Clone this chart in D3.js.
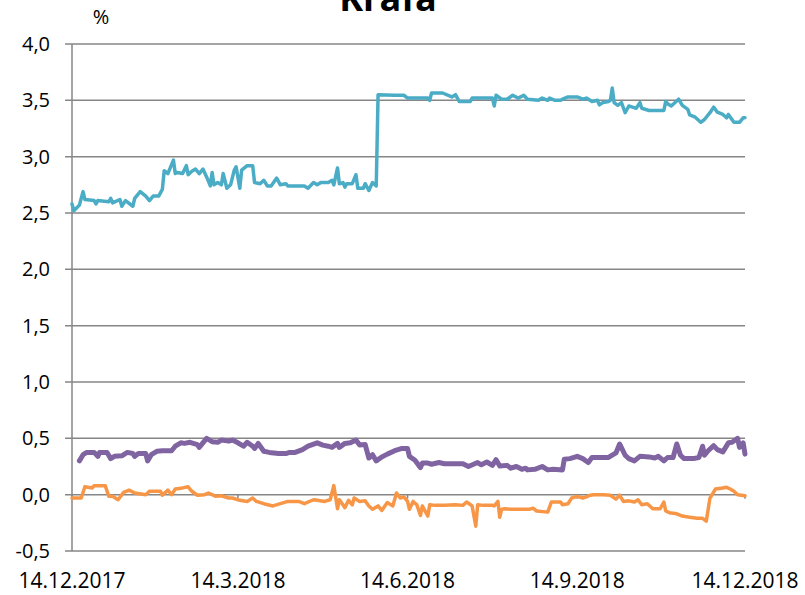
<!DOCTYPE html>
<html>
<head>
<meta charset="utf-8">
<script src="https://cdn.jsdelivr.net/npm/d3@7"></script>
<style>
  body { margin: 0; background: #fff; }
  text { font-family: "Open Sans", "Liberation Sans", sans-serif; fill: #000; }
</style>
</head>
<body>
<script>
// Chart data: [day offset from 14.12.2017, value in %]
const startDate = new Date(2017, 11, 14);
const endDate = new Date(2018, 11, 14);
const tickDates = [new Date(2017, 11, 14), new Date(2018, 2, 14), new Date(2018, 5, 14), new Date(2018, 8, 14), new Date(2018, 11, 14)];
const tickLabels = ["14.12.2017", "14.3.2018", "14.6.2018", "14.9.2018", "14.12.2018"];
const yTicks = [-0.5, 0, 0.5, 1, 1.5, 2, 2.5, 3, 3.5, 4];

const lineBlue = [
    [0, 2.58], [1, 2.52], [4, 2.57], [6, 2.69], [7, 2.62], [12, 2.61], [13, 2.58], [14, 2.61], [20, 2.60],
    [21, 2.63], [22, 2.59], [26, 2.62], [27, 2.56], [29, 2.61], [33, 2.56], [34, 2.63], [37, 2.69], [40, 2.65],
    [42, 2.61], [44, 2.65], [47, 2.65], [49, 2.71], [50, 2.875], [52, 2.85], [54, 2.93], [55, 2.97], [56, 2.85],
    [57, 2.86], [60, 2.85], [62, 2.92], [63, 2.84], [65, 2.87], [67, 2.89], [69, 2.85], [71, 2.89], [73, 2.82],
    [75, 2.74], [76, 2.86], [77, 2.75], [79, 2.77], [81, 2.75], [82, 2.85], [84, 2.72], [86, 2.75], [88, 2.88],
    [89, 2.91], [91, 2.72], [92, 2.88], [95, 2.92], [98, 2.92], [99, 2.77], [102, 2.76], [104, 2.79], [106, 2.74],
    [108, 2.74], [111, 2.81], [113, 2.75], [116, 2.76], [117, 2.74], [126, 2.74], [128, 2.72], [131, 2.77],
    [133, 2.75], [135, 2.77], [139, 2.77], [141, 2.79], [142, 2.75], [144, 2.90], [145, 2.76], [147, 2.77],
    [148, 2.73], [149, 2.76], [152, 2.76], [154, 2.84], [155, 2.72], [158, 2.72], [159, 2.76], [161, 2.70],
    [163, 2.77], [165, 2.74], [166, 3.55], [175, 3.545], [180, 3.545], [182, 3.52], [193, 3.52], [194, 3.50],
    [195, 3.565], [201, 3.565], [206, 3.53], [208, 3.55], [209, 3.52], [210, 3.49], [216, 3.49], [217, 3.52],
    [228, 3.52], [229, 3.45], [230, 3.545], [233, 3.51], [236, 3.51], [239, 3.545], [242, 3.52], [245, 3.545],
    [247, 3.51], [253, 3.50], [255, 3.52], [258, 3.50], [259, 3.52], [262, 3.50], [265, 3.50], [266, 3.51],
    [269, 3.53], [274, 3.53], [277, 3.51], [279, 3.52], [282, 3.49], [285, 3.50], [286, 3.46], [288, 3.48],
    [291, 3.49], [292, 3.50], [293, 3.61], [294, 3.48], [296, 3.455], [298, 3.48], [300, 3.39], [302, 3.45],
    [304, 3.44], [306, 3.43], [308, 3.48], [309, 3.43], [313, 3.41], [321, 3.41], [322, 3.49], [323, 3.47],
    [325, 3.45], [329, 3.51], [331, 3.455], [334, 3.42], [335, 3.37], [338, 3.35], [341, 3.305], [343, 3.33],
    [346, 3.39], [348, 3.44], [350, 3.395], [353, 3.375], [355, 3.345], [356, 3.375], [359, 3.305], [362, 3.305],
    [364, 3.345], [365, 3.345]
];

const linePurple = [
    [4, 0.30], [6, 0.355], [8, 0.375], [12, 0.375], [14, 0.34], [15, 0.375], [19, 0.375], [21, 0.32],
    [23, 0.34], [27, 0.345], [30, 0.375], [33, 0.365], [34, 0.34], [36, 0.365], [40, 0.365], [41, 0.30],
    [43, 0.355], [46, 0.385], [49, 0.39], [52, 0.39], [54, 0.39], [56, 0.43], [59, 0.46], [61, 0.455],
    [64, 0.465], [68, 0.445], [69, 0.42], [71, 0.46], [73, 0.50], [76, 0.47], [79, 0.465], [81, 0.485],
    [85, 0.475], [87, 0.485], [90, 0.46], [93, 0.43], [95, 0.465], [98, 0.43], [99, 0.41], [101, 0.455],
    [104, 0.385], [107, 0.375], [112, 0.365], [116, 0.365], [118, 0.375], [121, 0.375], [125, 0.40],
    [128, 0.43], [133, 0.46], [136, 0.44], [139, 0.43], [141, 0.42], [144, 0.455], [145, 0.42], [148, 0.455],
    [151, 0.46], [154, 0.485], [156, 0.44], [159, 0.445], [161, 0.325], [163, 0.355], [165, 0.30], [168, 0.335],
    [171, 0.36], [175, 0.39], [179, 0.41], [182, 0.41], [183, 0.34], [186, 0.305], [189, 0.24], [190, 0.28],
    [193, 0.28], [195, 0.27], [199, 0.285], [202, 0.275], [206, 0.275], [212, 0.275], [215, 0.25], [220, 0.285],
    [222, 0.265], [225, 0.29], [228, 0.26], [230, 0.31], [232, 0.255], [236, 0.26], [238, 0.235], [241, 0.25],
    [244, 0.225], [246, 0.235], [247, 0.22], [251, 0.225], [255, 0.25], [258, 0.22], [261, 0.225], [266, 0.22],
    [267, 0.315], [270, 0.32], [274, 0.34], [277, 0.32], [280, 0.285], [282, 0.33], [286, 0.33], [291, 0.33],
    [295, 0.37], [297, 0.45], [300, 0.35], [302, 0.32], [305, 0.30], [308, 0.34], [313, 0.335], [316, 0.325],
    [318, 0.34], [321, 0.30], [323, 0.33], [326, 0.33], [328, 0.45], [330, 0.35], [332, 0.32], [337, 0.32],
    [340, 0.33], [342, 0.43], [343, 0.35], [345, 0.39], [348, 0.435], [350, 0.40], [353, 0.38], [356, 0.46],
    [358, 0.465], [361, 0.50], [362, 0.42], [364, 0.46], [365, 0.36]
];

const lineOrange = [
    [0, -0.03], [5, -0.03], [7, 0.07], [11, 0.06], [12, 0.08], [18, 0.08], [20, -0.015], [22, -0.015],
    [25, -0.045], [28, 0.02], [31, 0.04], [34, 0.015], [40, 0.0], [42, 0.03], [48, 0.03], [49, -0.005],
    [52, 0.04], [54, 0.0], [56, 0.05], [60, 0.06], [63, 0.07], [65, 0.03], [68, -0.005], [72, 0.0], [74, 0.015],
    [78, -0.015], [81, -0.01], [85, -0.03], [87, -0.03], [91, -0.05], [95, -0.06], [98, -0.03], [100, -0.06],
    [104, -0.08], [109, -0.10], [113, -0.08], [117, -0.06], [123, -0.06], [126, -0.08], [131, -0.045],
    [133, -0.05], [137, -0.06], [140, -0.045], [142, 0.08], [144, -0.125], [145, -0.045], [148, -0.115],
    [150, -0.05], [152, -0.09], [153, -0.03], [156, -0.06], [159, -0.055], [161, -0.10], [163, -0.13],
    [166, -0.10], [168, -0.14], [171, -0.07], [174, -0.10], [176, 0.015], [178, -0.03], [180, -0.02],
    [182, -0.06], [183, -0.13], [185, -0.06], [187, -0.09], [189, -0.185], [190, -0.10], [193, -0.19],
    [194, -0.09], [197, -0.095], [202, -0.095], [208, -0.09], [212, -0.095], [214, -0.065], [217, -0.10],
    [219, -0.28], [220, -0.09], [223, -0.095], [228, -0.095], [229, -0.10], [231, -0.06], [232, -0.20],
    [233, -0.13], [235, -0.125], [238, -0.13], [242, -0.13], [246, -0.13], [248, -0.13], [250, -0.12],
    [252, -0.145], [258, -0.155], [260, -0.065], [265, -0.065], [266, -0.09], [269, -0.08], [271, -0.03],
    [274, -0.015], [277, -0.03], [279, -0.02], [281, -0.005], [283, 0.0], [288, 0.0], [292, -0.005],
    [295, -0.04], [297, -0.005], [299, -0.06], [302, -0.055], [305, -0.065], [307, -0.045], [309, -0.09],
    [312, -0.08], [315, -0.125], [319, -0.125], [321, -0.065], [322, -0.145], [324, -0.16], [328, -0.17],
    [331, -0.19], [335, -0.20], [339, -0.21], [342, -0.21], [344, -0.235], [346, -0.03], [349, 0.05],
    [353, 0.06], [355, 0.065], [357, 0.05], [359, 0.03], [361, 0.0], [363, -0.005], [365, -0.01]
];

const width = 805;
const height = 595;
const plot = {left: 72, right: 745, top: 44, bottom: 551};

const svg = d3.select("body").append("svg")
    .attr("width", width)
    .attr("height", height);

const x = d3.scaleTime()
    .domain([startDate, endDate])
    .range([plot.left, plot.right]);

const y = d3.scaleLinear()
    .domain([-0.5, 4])
    .range([plot.bottom, plot.top]);

const toDate = (d) => d3.timeDay.offset(startDate, d[0]);

// Horizontal gridlines with small outer ticks
svg.append("g")
    .selectAll("line")
    .data(yTicks)
    .join("line")
    .attr("x1", plot.left - 7)
    .attr("x2", plot.right)
    .attr("y1", (d) => y(d))
    .attr("y2", (d) => y(d))
    .attr("stroke", "#868686")
    .attr("stroke-width", 1.5);

// Vertical value axis
svg.append("line")
    .attr("x1", plot.left)
    .attr("x2", plot.left)
    .attr("y1", plot.top)
    .attr("y2", plot.bottom)
    .attr("stroke", "#868686")
    .attr("stroke-width", 1.5);

// Y tick labels (comma decimals, plain hyphen for minus)
svg.append("g")
    .selectAll("text")
    .data(yTicks)
    .join("text")
    .attr("x", 50)
    .attr("y", (d) => y(d))
    .attr("dy", "0.35em")
    .attr("text-anchor", "end")
    .style("font-size", "20px")
    .text((d) => d.toFixed(1).replace(".", ","));

// Date axis ticks at zero
svg.append("g")
    .selectAll("line")
    .data(tickDates)
    .join("line")
    .attr("x1", (d) => x(d))
    .attr("x2", (d) => x(d))
    .attr("y1", y(0))
    .attr("y2", y(0) + 4)
    .attr("stroke", "#868686")
    .attr("stroke-width", 1.5);

// Date labels at the bottom
svg.append("g")
    .selectAll("text")
    .data(tickDates)
    .join("text")
    .attr("x", (d) => x(d))
    .attr("y", 588)
    .attr("text-anchor", "middle")
    .style("font-size", "21px")
    .text((d, i) => tickLabels[i]);

// Lines
const line = d3.line()
    .x((d) => x(toDate(d)))
    .y((d) => y(d[1]));

const series = [
    {data: lineOrange, color: "#f79646", w: 3.5},
    {data: linePurple, color: "#8064a2", w: 5},
    {data: lineBlue, color: "#4bacc6", w: 3.5}
];

svg.append("g")
    .selectAll("path")
    .data(series)
    .join("path")
    .attr("d", (d) => line(d.data))
    .attr("fill", "none")
    .attr("stroke", (d) => d.color)
    .attr("stroke-width", (d) => d.w)
    .attr("stroke-linejoin", "round")
    .attr("stroke-linecap", "round");

// Title (partly above the top edge, as in the original) and unit
svg.append("text")
    .attr("x", 388)
    .attr("y", 11)
    .attr("text-anchor", "middle")
    .style("font-size", "36px")
    .style("font-weight", "bold")
    .text("Krafa");

svg.append("text")
    .attr("x", 101)
    .attr("y", 24)
    .attr("text-anchor", "middle")
    .style("font-size", "20px")
    .text("%");
</script>
</body>
</html>
